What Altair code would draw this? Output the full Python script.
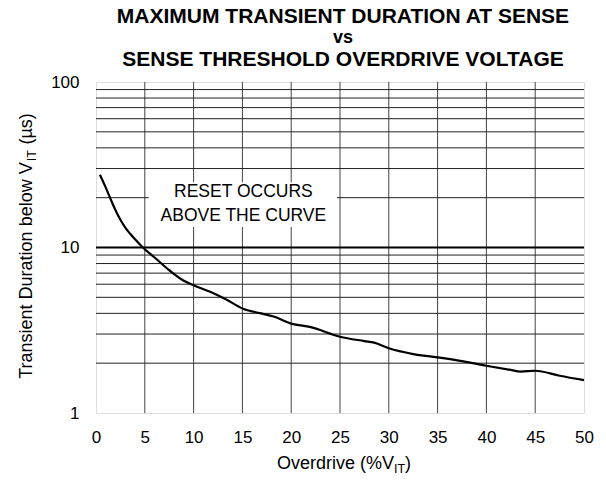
import altair as alt
import pandas as pd

# ---- data ----
overdrive = [0.4, 1, 1.5, 2, 2.5, 3, 3.5, 4, 4.8, 6, 7.5, 9, 10, 11.7, 13.4, 15, 16.8, 18.2,
             20, 22, 25, 27.5, 28.5, 30, 32.5, 35, 37.5, 40, 42.5, 43.5, 45, 47.5, 50]
duration = [27.5, 23, 19.6, 16.8, 14.7, 13.2, 12.1, 11.2, 10, 8.7, 7.3, 6.3, 5.92, 5.4, 4.83, 4.28,
            4.01, 3.83, 3.47, 3.3, 2.89, 2.72, 2.66, 2.46, 2.27, 2.17, 2.06, 1.93, 1.82, 1.78,
            1.80, 1.68, 1.58]
x_ticks = [0, 5, 10, 15, 20, 25, 30, 35, 40, 45, 50]
y_ticks = [1, 10, 100]
grid_x = [5, 10, 15, 20, 25, 30, 35, 40, 45]
grid_y_minor = [2, 3, 4, 5, 6, 7, 8, 9, 20, 30, 40, 50, 60, 70, 80, 90]
grid_y_major = [10]
note_lines = ["RESET OCCURS", "ABOVE THE CURVE"]
note_x = [15.1, 15.1]
note_y = [20.1, 14.4]
note_box_x = [5.4, 24.7]
note_box_y = [13.3, 24.8]
title_lines = ["MAXIMUM TRANSIENT DURATION AT SENSE", "vs", "SENSE THRESHOLD OVERDRIVE VOLTAGE"]
x_title = ["Overdrive (%V", "IT", ")"]
y_title = ["Transient Duration below V", "IT", "(µs)"]

# ---- layout ----
W, H = 488, 331
FONT = "Liberation Sans"
AW = {'O': 778, 'v': 500, 'e': 556, 'r': 333, 'd': 556, 'i': 222, ' ': 278,
      '(': 333, '%': 889, 'V': 667, 'I': 278, 'T': 611, ')': 333, 'a': 556, 'n': 556, 's': 500,
      't': 278, 'D': 722, 'u': 556, 'o': 556, 'b': 556, 'l': 222, 'w': 722, 'µ': 576}


def tw(s, size):
    return sum(AW.get(c, 556) for c in s) / 1000.0 * size


xs = alt.Scale(domain=[0, 50], nice=False, zero=False)
ys = alt.Scale(type="log", domain=[1, 100], nice=False)
x_axis = alt.Axis(values=x_ticks, title=None, ticks=False, tickSize=0, domain=False, grid=False,
                  labelFont=FONT, labelFontSize=17, labelColor="black", labelPadding=16,
                  labelFlush=False)
y_axis = alt.Axis(values=y_ticks, title=None, ticks=False, tickSize=0, domain=False, grid=False,
                  labelFont=FONT, labelFontSize=17, labelColor="black", labelPadding=17,
                  format="~g")


def X(f):
    return alt.X(f, scale=xs, axis=x_axis)


def Y(f):
    return alt.Y(f, scale=ys, axis=y_axis)


curve_df = pd.DataFrame({"x": overdrive, "y": duration})

vgrid = alt.Chart(pd.DataFrame({"x": grid_x})).mark_rule(color="#444", strokeWidth=1).encode(
    x=X("x:Q"))
hgrid = alt.Chart(pd.DataFrame({"y": grid_y_minor})).mark_rule(color="#222", strokeWidth=1).encode(
    y=Y("y:Q"))
hmajor = alt.Chart(pd.DataFrame({"y": grid_y_major})).mark_rule(color="black", strokeWidth=2.2).encode(
    y=Y("y:Q"))
box = alt.Chart(pd.DataFrame({"x1": [note_box_x[0]], "x2": [note_box_x[1]],
                              "y1": [note_box_y[0]], "y2": [note_box_y[1]]})).mark_rect(
    color="white").encode(x=X("x1:Q"), x2="x2:Q", y=Y("y1:Q"), y2="y2:Q")
note = alt.Chart(pd.DataFrame({"t": note_lines, "x": note_x, "y": note_y})).mark_text(
    font=FONT, fontSize=17.5, color="black", align="center", baseline="alphabetic").encode(
    x=X("x:Q"), y=Y("y:Q"), text="t:N")
line = alt.Chart(curve_df).mark_line(color="black", strokeWidth=2.2, interpolate="monotone").encode(
    x=X("x:Q"), y=Y("y:Q"))

layers = [vgrid, hgrid, hmajor, box, note, line]


def txt(s, x, y, size, bold=False, align="center", angle=0):
    kw = dict(font=FONT, fontSize=size, color="black", align=align, baseline="alphabetic")
    if bold:
        kw["fontWeight"] = "bold"
    if angle:
        kw["angle"] = angle
    return alt.Chart(pd.DataFrame({"t": [s]})).mark_text(**kw).encode(
        text="t:N", x=alt.value(x), y=alt.value(y))


# title
tcx = 247
layers.append(txt(title_lines[0], tcx, -59, 21, bold=True))
layers.append(txt(title_lines[1], tcx, -39, 18, bold=True))
layers.append(txt(title_lines[2], tcx, -16, 21, bold=True))

# x-axis title with subscript
F, FS = 18, 12.5
w1, w2, w3 = tw(x_title[0], F), tw(x_title[1], FS), tw(x_title[2], F)
start = 248 - (w1 + w2 + w3) / 2
layers.append(txt(x_title[0], start, 387, F, align="left"))
layers.append(txt(x_title[1], start + w1, 391, FS, align="left"))
layers.append(txt(x_title[2], start + w1 + w2, 387, F, align="left"))

# y-axis title with subscript (rotated)
gap = tw(" ", F) + 1
w1, w2, w3 = tw(y_title[0], F), tw(y_title[1], FS), tw(y_title[2], F)
ystart = 164 + (w1 + w2 + gap + w3) / 2
bx = -64
layers.append(txt(y_title[0], bx, ystart, F, align="left", angle=270))
layers.append(txt(y_title[1], bx + 4, ystart - w1 - 0.5, FS, align="left", angle=270))
layers.append(txt(y_title[2], bx, ystart - w1 - w2 - gap, F, align="left", angle=270))

chart = alt.layer(*layers).properties(
    width=W, height=H,
    padding={"left": 96, "top": 82, "right": 22, "bottom": 68},
    autosize=alt.AutoSizeParams(type="none"),
).configure_view(stroke="black", strokeWidth=2.5).configure(background="white")

chart.save("out.html", embed_options={"renderer": "svg", "actions": False})
